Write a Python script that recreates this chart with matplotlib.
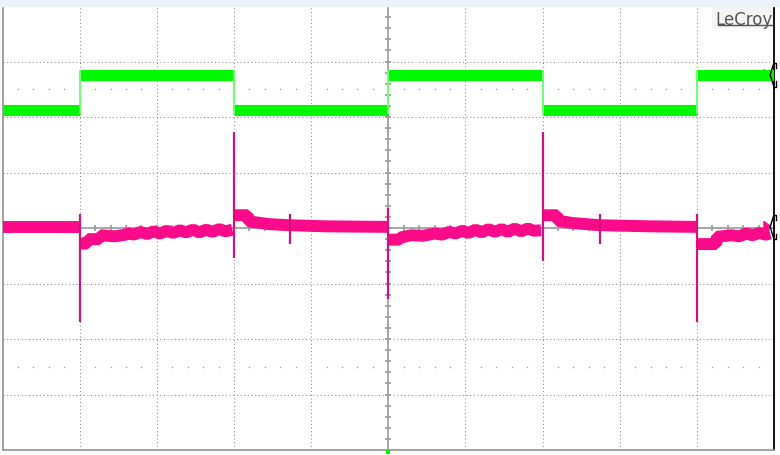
import matplotlib.pyplot as plt
from matplotlib.patches import Rectangle, Polygon

# scope screen: 10 x 8 divisions, centre at (5, 0)
green_seg_start = [0.0, 1.0, 3.0, 5.0, 7.0, 9.0]
green_seg_end = [1.0, 3.0, 5.0, 7.0, 9.0, 10.0]
green_seg_level = [2.12, 2.76, 2.12, 2.76, 2.12, 2.76]
green_edges = [1.0, 3.0, 5.0, 7.0, 9.0]

# pink trace, one list pair per segment between edges
pink_t1 = [0.0, 0.99]
pink_v1 = [0.02, 0.02]
pink_t2 = [1.0, 1.10, 1.11, 1.26, 1.27, 1.45, 1.60, 1.62, 1.70, 1.79, 1.87, 1.96, 2.04,
           2.13, 2.21, 2.30, 2.38, 2.47, 2.55, 2.64, 2.72, 2.81, 2.89, 2.98]
pink_v2 = [-0.28, -0.28, -0.20, -0.20, -0.13, -0.15, -0.12, -0.09, -0.12, -0.07, -0.11,
           -0.06, -0.10, -0.05, -0.09, -0.04, -0.08, -0.03, -0.08, -0.03, -0.07, -0.02,
           -0.06, -0.03]
pink_t3 = [3.0, 3.18, 3.19, 3.45, 3.72, 4.2, 4.99]
pink_v3 = [0.23, 0.23, 0.12, 0.07, 0.05, 0.03, 0.02]
pink_t4 = [5.0, 5.15, 5.16, 5.3, 5.45, 5.6, 5.7, 5.79, 5.87, 5.96, 6.04, 6.13, 6.21,
           6.30, 6.38, 6.47, 6.55, 6.64, 6.72, 6.81, 6.89, 6.98]
pink_v4 = [-0.21, -0.21, -0.17, -0.13, -0.14, -0.10, -0.12, -0.07, -0.10, -0.05, -0.09,
           -0.03, -0.08, -0.02, -0.07, -0.02, -0.07, -0.01, -0.06, -0.01, -0.05, -0.04]
pink_t5 = [7.0, 7.19, 7.2, 7.39, 7.74, 8.4, 8.99]
pink_v5 = [0.23, 0.23, 0.13, 0.09, 0.05, 0.03, 0.02]
pink_t6 = [9.0, 9.25, 9.26, 9.45, 9.55, 9.64, 9.72, 9.81, 9.89, 9.95]
pink_v6 = [-0.29, -0.29, -0.16, -0.13, -0.15, -0.10, -0.13, -0.09, -0.12, -0.10]

# switching spikes
spike_t = [1.0, 3.0, 3.73, 5.0, 7.0, 7.74, 9.0]
spike_lo = [-1.69, -0.54, -0.29, -1.28, -0.59, -0.29, -1.69]
spike_hi = [0.25, 1.73, 0.25, 0.36, 1.73, 0.25, 0.25]

GREEN = '#00f800'
PINK = '#fb0a8a'
GRID = '#8c8c8c'

fig = plt.figure(figsize=(7.8, 4.56), dpi=100)
W, H = 780, 456
fig.patches.append(Rectangle((0, 1 - 6.5 / H), 1, 6.5 / H, transform=fig.transFigure,
                             color='#edf1f9', zorder=0))
ax = fig.add_axes([2.5 / W, 1 - 451 / H, (774 - 2.5) / W, (451 - 7) / H])
ax.set_xlim(0, 10)
ax.set_ylim(-4, 4)
ax.set_xticks([])
ax.set_yticks([])
for side in ['left', 'top', 'bottom']:
    ax.spines[side].set_color('#9a9a9a')
    ax.spines[side].set_linewidth(1.3)
ax.spines['right'].set_color('black')
ax.spines['right'].set_linewidth(1.3)

# dotted graticule
for i in range(1, 10):
    if i != 5:
        ax.axvline(i, color=GRID, lw=0.75, ls=(0, (1, 2.5)), zorder=1)
for j in range(-3, 4):
    if j != 0:
        ax.axhline(j, color=GRID, lw=0.75, ls=(0, (1, 2.5)), zorder=1)

# dot rows half way between grid lines
dots_x = [k * 0.2 for k in range(1, 50) if k % 5 != 0]
for yy in [2.5, -2.5]:
    ax.plot(dots_x, [yy] * len(dots_x), 's', color='#a0a0a0', ms=1.0, mew=0, zorder=1)

# centre axes with minor ticks
ax.axhline(0, color='#9a9a9a', lw=1.2, zorder=1)
ax.axvline(5, color='#9a9a9a', lw=1.2, zorder=1)
tx = [k * 0.2 for k in range(1, 50)]
ax.vlines(tx, -0.055, 0.055, color='#9a9a9a', lw=1.2, zorder=1)
ty = [k * 0.2 - 4 for k in range(1, 40)]
ax.hlines(ty, 5 - 0.04, 5 + 0.04, color='#9a9a9a', lw=1.2, zorder=1)

# green trace
ax.hlines(green_seg_level, green_seg_start, green_seg_end, color=GREEN, lw=8.0, zorder=3)
ax.vlines(green_edges, 2.05, 2.85, color='#70ff70', lw=1.5, zorder=3)

# pink trace
for t, v in [(pink_t1, pink_v1), (pink_t2, pink_v2), (pink_t3, pink_v3),
             (pink_t4, pink_v4), (pink_t5, pink_v5), (pink_t6, pink_v6)]:
    ax.plot(t, v, color=PINK, lw=8.6, solid_capstyle='butt', solid_joinstyle='bevel',
            zorder=3)
ax.vlines(spike_t, spike_lo, spike_hi, color='#cc1480', lw=1.6, zorder=4)

# channel markers on the right edge
for lvl, col in [(2.76, GREEN), (0.02, PINK)]:
    ax.add_patch(Polygon([(9.87, lvl + 0.1), (9.96, lvl), (9.87, lvl - 0.1)],
                         closed=True, color=col, zorder=5, clip_on=False))
    ax.plot([10.0, 9.95, 10.0], [lvl + 0.22, lvl, lvl - 0.22], color='black', lw=1.0,
            zorder=6, clip_on=False)
    ax.plot([10.0, 10.03, 10.03], [lvl + 0.22, lvl + 0.22, lvl + 0.12], color='black',
            lw=1.0, zorder=6, clip_on=False)
    ax.plot([10.0, 10.03, 10.03], [lvl - 0.22, lvl - 0.22, lvl - 0.12], color='black',
            lw=1.0, zorder=6, clip_on=False)

# trigger marker at the bottom centre
ax.plot([5], [-4.04], 's', color=GREEN, ms=3, mew=0, clip_on=False, zorder=6)

# brand label
ax.add_patch(Rectangle((9.2, 3.62), 0.8, 0.36, color='#f4f4f4', zorder=2))
ax.text(9.985, 3.93, 'LeCroy', ha='right', va='top', fontsize=12, color='#555555',
        zorder=5)
ax.plot([9.28, 9.98], [3.66, 3.66], color='#555555', lw=1.0, zorder=5)

fig.savefig('out.png', dpi=100)
